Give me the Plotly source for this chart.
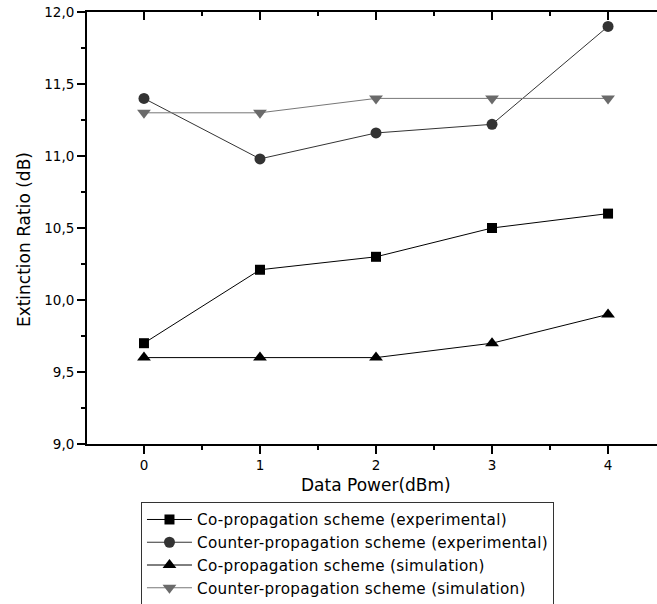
import plotly.graph_objects as go

data_power = [0, 1, 2, 3, 4]
co_exp = [9.70, 10.21, 10.30, 10.50, 10.60]
counter_exp = [11.40, 10.98, 11.16, 11.22, 11.90]
co_sim = [9.60, 9.60, 9.60, 9.70, 9.90]
counter_sim = [11.30, 11.30, 11.40, 11.40, 11.40]

names = [
    "Co-propagation scheme (experimental)",
    "Counter-propagation scheme (experimental)",
    "Co-propagation scheme (simulation)",
    "Counter-propagation scheme (simulation)",
]

FONT = "DejaVu Sans, sans-serif"

series = [co_exp, counter_exp, co_sim, counter_sim]
symbols = ["square", "circle", "triangle-up", "triangle-down"]
mcolors = ["#000000", "#333333", "#000000", "#6a6a6a"]
lcolors = ["#000000", "#333333", "#000000", "#777777"]
msizes = [10, 11, 12, 12]

fig = go.Figure()
for ys, nm, sym, mc, lc, ms in zip(series, names, symbols, mcolors, lcolors, msizes):
    fig.add_trace(go.Scatter(x=data_power, y=ys, mode="lines+markers",
                             name='<span style="letter-spacing:0.3px">' + nm + "</span>",
                             line=dict(color=lc, width=1),
                             marker=dict(symbol=sym, size=ms, color=mc)))

# invisible copy on the top axis so that the mirrored top axis is drawn
fig.add_trace(go.Scatter(x=data_power, y=co_exp, xaxis="x2", yaxis="y", mode="markers",
                         marker=dict(opacity=0), showlegend=False, hoverinfo="skip"))

xr = [-0.491, 4.422]

fig.update_layout(
    width=657, height=604,
    margin=dict(l=87, r=0, t=12, b=160, autoexpand=False),
    paper_bgcolor="white", plot_bgcolor="white",
    separators=",.",
    font=dict(family=FONT, color="#000000", size=13.5),
    showlegend=True,
    legend=dict(x=0.0947, y=-0.1345, xanchor="left", yanchor="top",
                bordercolor="#333333", borderwidth=1, bgcolor="white",
                font=dict(family=FONT, size=15.2, color="#000000"),
                tracegroupgap=0, itemwidth=45),
    xaxis=dict(range=xr, tickvals=data_power, ticktext=[str(v) for v in data_power],
               showgrid=False, zeroline=False, showline=True, linecolor="#000000", linewidth=2,
               ticks="outside", ticklen=8, tickwidth=2, tickcolor="#000000",
               minor=dict(ticks="outside", ticklen=4, tickwidth=2, tickcolor="#000000", dtick=0.5, tick0=0.5,
                          showgrid=False),
               tickfont=dict(size=13.5)),
    xaxis2=dict(range=xr, overlaying="x", side="top", anchor="y",
                tickvals=data_power, showticklabels=False,
                showgrid=False, zeroline=False, showline=True, linecolor="#000000", linewidth=2,
                ticks="inside", ticklen=8, tickwidth=2, tickcolor="#000000",
                minor=dict(ticks="inside", ticklen=4, tickwidth=2, tickcolor="#000000", dtick=0.5, tick0=0.5,
                           showgrid=False)),
    yaxis=dict(range=[9, 12], dtick=0.5, tick0=9, tickformat=".1f",
               showgrid=False, zeroline=False, showline=True, linecolor="#000000", linewidth=2,
               ticks="outside", ticklen=8, tickwidth=2, tickcolor="#000000",
               minor=dict(ticks="outside", ticklen=4, tickwidth=2, tickcolor="#000000", dtick=0.25,
                          showgrid=False),
               tickfont=dict(size=13.5)),
    annotations=[
        dict(text="Extinction Ratio (dB)", textangle=-90, xref="paper", yref="paper",
             x=-0.1105, y=0.472, xanchor="center", yanchor="middle", showarrow=False,
             font=dict(family=FONT, size=17)),
        dict(text="Data Power(dBm)", xref="x", yref="paper",
             x=2, y=-0.0949, xanchor="center", yanchor="middle", showarrow=False,
             font=dict(family=FONT, size=17)),
    ],
)

fig.write_html("out.html", config={"displayModeBar": False},
               post_script="document.body.style.margin='0px';")
